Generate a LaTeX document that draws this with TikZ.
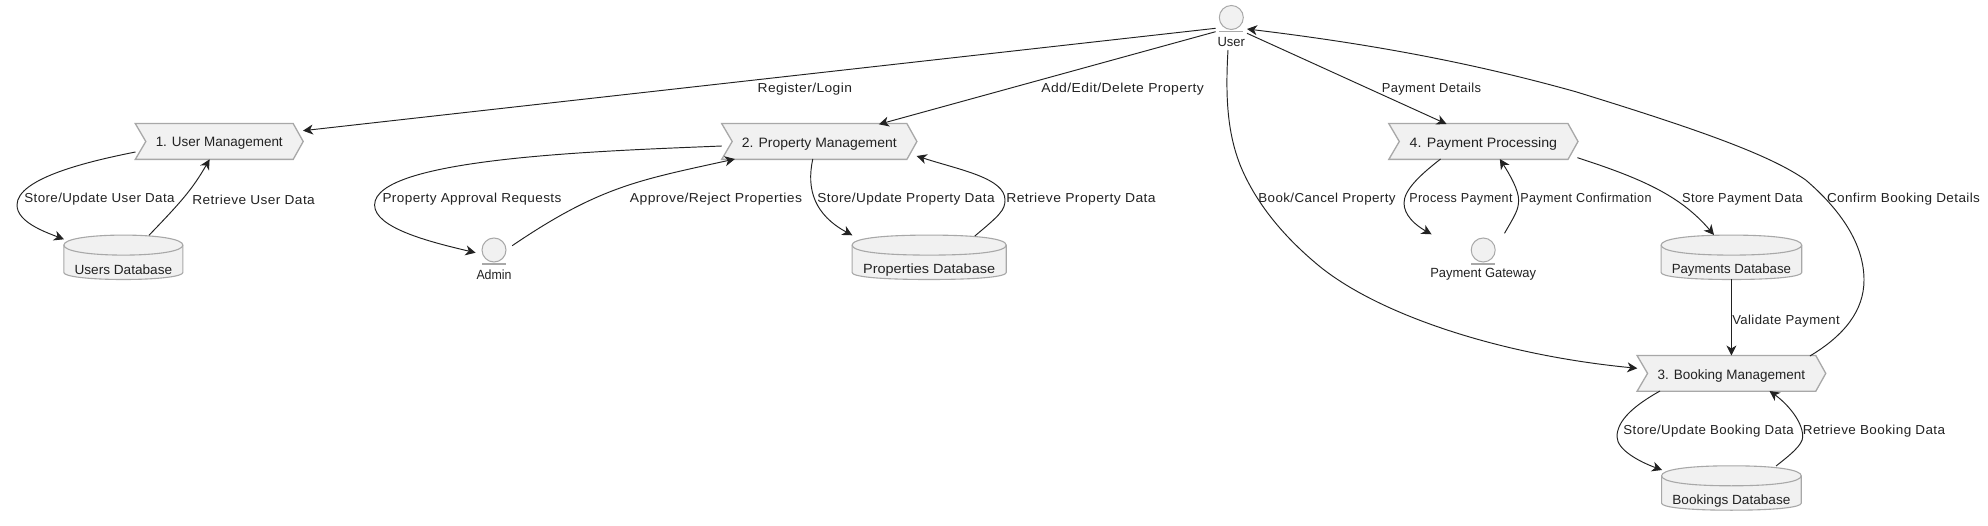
\documentclass[tikz,border=0pt]{standalone}
\usepackage{graphicx}
\usepackage{fontspec}
\setmainfont{Liberation Sans}
\usetikzlibrary{arrows.meta}
\newcommand\lblfont{\fontsize{13}{15}\selectfont\addfontfeature{LetterSpace=3}}
\newcommand\procfont{\fontsize{13.6}{15}\selectfont}
\newcommand\shapefont{\fontsize{13.3}{15}\selectfont}
\newcommand\fitw[2]{\resizebox{#1pt}{\height}{#2}}
\definecolor{shapefill}{HTML}{F1F1F1}
\definecolor{shapeline}{HTML}{A8A8A8}
\definecolor{ink}{HTML}{222222}
\tikzset{
  flow/.style={draw=ink,line width=0.95pt,-{Stealth[inset=3pt,length=10pt,width=10pt]}},
  edgetext/.style={inner sep=0pt,text=ink,font=\lblfont,yshift=-2.2pt},
  procbox/.style={inner sep=0pt,minimum height=35.4pt},
  procline/.style={draw=shapeline,fill=shapefill,line width=1.3pt,line join=miter},
  proctext/.style={inner sep=0pt,text=ink,font=\procfont,yshift=-2.2pt},
  dbbox/.style={inner sep=0pt,minimum height=44pt},
  dbline/.style={draw=shapeline,fill=shapefill,line width=1.1pt},
  dbtext/.style={inner sep=0pt,text=ink,font=\shapefont,yshift=-1.6pt},
  actorbody/.style={circle,inner sep=0pt,minimum size=24pt,draw=shapeline,fill=shapefill,line width=1pt},
  actorbar/.style={draw=shapeline,line width=1.6pt},
  actortext/.style={inner sep=0pt,text=ink,font=\shapefont},
}
% name, cx, cy, width, text width, text
\newcommand\procnode[6]{%
  \node[procbox,minimum width=#4pt] (#1) at (#2,#3) {};
  \path[procline] (#1.north west) -- ([shift={(-10,0)}]#1.north east) -- (#1.east)
     -- ([shift={(-10,0)}]#1.south east) -- (#1.south west) -- ([shift={(10.5,0)}]#1.west) -- cycle;
  \node[proctext] (#1-text) at (#1.center) {\fitw{#5}{#6}};
}
\newcommand\dbnode[6]{%
  \node[dbbox,minimum width=#4pt] (#1) at (#2,#3) {};
  \path[dbline] ([shift={(0,10)}]#1.north west)
     .. controls ([shift={(0,4)}]#1.north west) and ([shift={(25,0)}]#1.north west) .. (#1.north)
     .. controls ([shift={(-25,0)}]#1.north east) and ([shift={(0,4)}]#1.north east) .. ([shift={(0,10)}]#1.north east)
     -- ([shift={(0,-7)}]#1.south east)
     .. controls ([shift={(0,-3)}]#1.south east) and ([shift={(-25,0)}]#1.south east) .. (#1.south)
     .. controls ([shift={(25,0)}]#1.south west) and ([shift={(0,-3)}]#1.south west) .. ([shift={(0,-7)}]#1.south west)
     -- cycle;
  \draw[draw=shapeline,line width=1.1pt] ([shift={(0,10)}]#1.north west)
     .. controls ([shift={(0,16)}]#1.north west) and ([shift={(25,20)}]#1.north west) .. ([shift={(0,20)}]#1.north)
     .. controls ([shift={(-25,20)}]#1.north east) and ([shift={(0,16)}]#1.north east) .. ([shift={(0,10)}]#1.north east);
  \node[dbtext] (#1-text) at ([shift={(0,11)}]#1.center) {\fitw{#5}{#6}};
}
\newcommand\actornode[5]{%
  \node[actorbody,label={[actortext,yshift=-24.3pt]center:\fitw{#4}{#5}}] (#1) at (#2,#3) {};
  \draw[actorbar] ([shift={(-12,14)}]#1.center) -- ([shift={(12,14)}]#1.center);
}
\begin{document}
\begin{tikzpicture}[x=1pt,y=-1pt]
\useasboundingbox (0,0) rectangle (1988,526);
\fill[white] (0,0) rectangle (1988,526);

\actornode{user}{1231.3}{17.5}{27.4}{User}
\actornode{admin}{494}{250}{35}{Admin}
\actornode{gateway}{1483.2}{250}{105.7}{Payment Gateway}

\procnode{pa}{219.25}{141.5}{167.5}{127}{1. User Management}
\procnode{pb}{819.3}{141.5}{194.8}{154.9}{2. Property Management}
\procnode{pc}{1731.4}{373.4}{188.3}{147.4}{3. Booking Management}
\procnode{pd}{1483.4}{141.5}{188.8}{147.4}{4. Payment Processing}

\dbnode{dusers}{123.35}{257.3}{118.7}{97.6}{Users Database}
\dbnode{dprops}{929.15}{257.3}{153.7}{132}{Properties Database}
\dbnode{dpay}{1731.4}{257.3}{140.2}{119.3}{Payments Database}
\dbnode{dbook}{1731.4}{488}{139.3}{118}{Bookings Database}

% user connectors
\draw[flow] ([shift={(-15.7,10.8)}]user.center) -- ([shift={(83.75,-10.8)}]pa.center);
\draw[flow] ([shift={(-15.7,14.2)}]user.center) -- ([shift={(59.6,-17.2)}]pb.center);
\draw[flow] ([shift={(15.7,15.8)}]user.center) -- ([shift={(-36.9,-17.5)}]pd.center);
\draw[flow] ([shift={(-3.3,32.5)}]user.center)
  .. controls (1225,100) and (1228,135) .. (1240.8,166.7)
  .. controls (1257,205) and (1285,238) .. (1320,266.7)
  .. controls (1380,315) and (1500,355) .. ([shift={(-94.1,-5.1)}]pc.center);
\draw[flow] ([shift={(78.5,-17.4)}]pc.center)
  .. controls (1845,335) and (1864,310) .. (1864,280)
  .. controls (1864,240) and (1835,205) .. (1805.7,180)
  .. controls (1770,155) and (1700,130) .. (1575.6,91.7)
  .. controls (1480,65) and (1380,45) .. ([shift={(15.7,11.5)}]user.center);

% user management
\draw[flow] ([shift={(-83.75,10.5)}]pa.center)
  .. controls (90,161) and (17,178) .. (17,205)
  .. controls (17,222) and (45,232) .. ([shift={(-59.35,-18)}]dusers.center);
\draw[flow] ([shift={(25.65,-22)}]dusers.center)
  .. controls (180,203) and (192,190) .. ([shift={(-9.65,17.8)}]pa.center);

% property management
\draw[flow] ([shift={(-97.4,4.5)}]pb.center)
  .. controls (600,151) and (374.6,158) .. (374.6,205)
  .. controls (374.6,228) and (430,242) .. ([shift={(-18.4,2.7)}]admin.center);
\draw[flow] ([shift={(18.2,-4.3)}]admin.center)
  .. controls (600,186) and (640,180) .. ([shift={(-84.4,17.5)}]pb.center);
\draw[flow] ([shift={(-6.5,17.5)}]pb.center)
  .. controls (806,190) and (815,215) .. ([shift={(-76.85,-22)}]dprops.center);
\draw[flow] ([shift={(45.65,-21.3)}]dprops.center)
  .. controls (1000,215) and (1005,210) .. (1005,200)
  .. controls (1005,178) and (960,170) .. ([shift={(97.4,14.5)}]pb.center);

% payment
\draw[flow] ([shift={(-42.8,17.5)}]pd.center)
  .. controls (1420,175) and (1404,190) .. (1404,203)
  .. controls (1404,215) and (1415,225) .. ([shift={(-51.6,-15.7)}]gateway.center);
\draw[flow] ([shift={(21.3,-16.7)}]gateway.center)
  .. controls (1515,215) and (1518.6,210) .. (1518.6,200)
  .. controls (1518.6,190) and (1510,175) .. ([shift={(16.4,17.5)}]pd.center);
\draw[flow] ([shift={(94,16.2)}]pd.center)
  .. controls (1640,178) and (1680,195) .. ([shift={(-17.4,-22.3)}]dpay.center);
\draw[flow] (dpay.south) -- (pc.north);

% booking
\draw[flow] ([shift={(-71.4,17.6)}]pc.center)
  .. controls (1635,405) and (1617,420) .. (1617,436.7)
  .. controls (1617,450) and (1640,462) .. ([shift={(-69.35,-18)}]dbook.center);
\draw[flow] ([shift={(44.65,-22)}]dbook.center)
  .. controls (1790,455) and (1802.7,445) .. (1802.7,436.7)
  .. controls (1802.7,420) and (1785,402) .. ([shift={(38.1,17.6)}]pc.center);

% connector labels
\node[edgetext] (t1) at (804.8,87.3) {\fitw{94.3}{Register/Login}};
\node[edgetext] (t2) at (1122.6,87.3) {\fitw{162.5}{Add/Edit/Delete Property}};
\node[edgetext] (t3) at (1431.4,87.3) {\fitw{99.3}{Payment Details}};
\node[edgetext] (t4) at (99.5,197.3) {\fitw{150.3}{Store/Update User Data}};
\node[edgetext] (t5) at (253.6,197.3) {\fitw{122.5}{Retrieve User Data}};
\node[edgetext] (t6) at (472,197.3) {\fitw{178.9}{Property Approval Requests}};
\node[edgetext] (t7) at (716,197.3) {\fitw{172.2}{Approve/Reject Properties}};
\node[edgetext] (t8) at (906,197.3) {\fitw{177.2}{Store/Update Property Data}};
\node[edgetext] (t9) at (1081,197.3) {\fitw{149.4}{Retrieve Property Data}};
\node[edgetext] (t10) at (1327,197.3) {\fitw{137.3}{Book/Cancel Property}};
\node[edgetext] (t11) at (1461,197.3) {\fitw{103.1}{Process Payment}};
\node[edgetext] (t12) at (1585.9,197.3) {\fitw{131.2}{Payment Confirmation}};
\node[edgetext] (t13) at (1742.5,197.3) {\fitw{120.6}{Store Payment Data}};
\node[edgetext] (t14) at (1903.5,197.3) {\fitw{153}{Confirm Booking Details}};
\node[edgetext] (t15) at (1786,319.3) {\fitw{107.4}{Validate Payment}};
\node[edgetext] (t16) at (1708.6,429.3) {\fitw{170.4}{Store/Update Booking Data}};
\node[edgetext] (t17) at (1874,429.3) {\fitw{142.3}{Retrieve Booking Data}};
\end{tikzpicture}
\end{document}
